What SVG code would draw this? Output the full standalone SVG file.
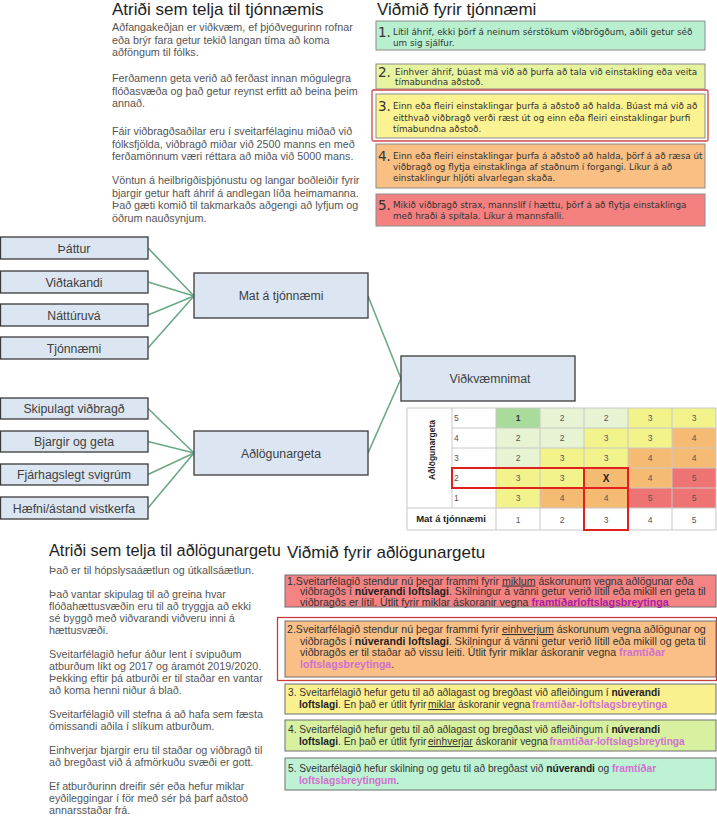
<svg xmlns="http://www.w3.org/2000/svg" width="717" height="825" viewBox="0 0 717 825">
<style>
.sans{font-family:"Liberation Sans",Arial,sans-serif}
.h{font-size:17px;fill:#1e1e1e}
.body{font-size:10.75px;fill:#555}
.node rect{fill:#dce6f2;stroke:#3a3a3a;stroke-width:1.3}
.node text{font-family:"Liberation Sans",Arial,sans-serif;font-size:12.3px;fill:#404040;text-anchor:middle}
.conn line{stroke:#6aa886;stroke-width:1.6}
.crit rect{stroke:#8c8c8c;stroke-width:1}
.crit text{font-family:"DejaVu Sans",Verdana,sans-serif;font-size:8.8px;fill:#333}
.crit .n{font-size:13.5px}
.adl rect{stroke:#6e6e6e;stroke-width:1}
.adl text{font-family:"Liberation Sans",Arial,sans-serif;font-size:10.2px;fill:#333}
.adl .big{font-size:10.6px}
.b{font-weight:bold;fill:#222}
.p{font-weight:bold;fill:#d070d0}
.pd{font-weight:bold;fill:#a81ea8}
.u{text-decoration:underline}
.grid line{stroke:#c8c8c8;stroke-width:1}
.mx text{font-family:"Liberation Sans",Arial,sans-serif;font-size:8.5px;fill:#555;text-anchor:middle}
.mx .rn{text-anchor:start}
.hl{fill:none;stroke:#e02020;stroke-width:2}
</style>

<!-- Top-left text -->
<g id="text-tjonnaemi" class="sans">
<text class="h" x="112" y="15">Atriði sem telja til tjónnæmis</text>
<g class="body">
<text x="112" y="31">Aðfangakeðjan er viðkvæm, ef þjóðvegurinn rofnar</text>
<text x="112" y="43.5">eða brýr fara getur tekið langan tíma að koma</text>
<text x="112" y="56">aðföngum til fólks.</text>
<text x="112" y="82">Ferðamenn geta verið að ferðast innan mögulegra</text>
<text x="112" y="94.5">flóðasvæða og það getur reynst erfitt að beina þeim</text>
<text x="112" y="107">annað.</text>
<text x="112" y="135">Fáir viðbragðsaðilar eru í sveitarfélaginu miðað við</text>
<text x="112" y="147.5">fólksfjölda, viðbragð miðar við 2500 manns en með</text>
<text x="112" y="160">ferðamönnum væri réttara að miða við 5000 mans.</text>
<text x="112" y="184">Vöntun á heilbrigðisþjónustu og langar boðleiðir fyrir</text>
<text x="112" y="196.5">bjargir getur haft áhrif á andlegan líða heimamanna.</text>
<text x="112" y="209">Það gæti komið til takmarkaðs aðgengi að lyfjum og</text>
<text x="112" y="221.5">öðrum nauðsynjum.</text>
</g>
</g>

<!-- Top-right criteria -->
<g id="vidmid-tjonnaemi" class="crit">
<text x="377" y="15" style="font-family:'Liberation Sans',Arial,sans-serif;font-size:17px;fill:#1e1e1e">Viðmið fyrir tjónnæmi</text>
<rect x="376" y="21" width="329" height="29" fill="#b7efcf"/>
<text class="n" x="378" y="37">1.</text>
<text x="393" y="35">Lítil áhrif, ekki þörf á neinum sérstökum viðbrögðum, aðili getur séð</text>
<text x="393" y="46">um sig sjálfur.</text>
<rect x="376" y="64" width="329" height="25" fill="#e6f4a0"/>
<text class="n" x="378" y="77">2.</text>
<text x="395" y="75">Einhver áhrif, búast má við að þurfa að tala við einstakling eða veita</text>
<text x="395" y="85">tímabundna aðstoð.</text>
<rect x="372" y="90" width="336" height="51" rx="1.5" style="fill:none;stroke:#d04848;stroke-width:1.3"/>
<rect x="376" y="94" width="329" height="44" fill="#fbf291"/>
<text class="n" x="378" y="111">3.</text>
<text x="393" y="109">Einn eða fleiri einstaklingar þurfa á aðstoð að halda. Búast má við að</text>
<text x="393" y="120.5">eitthvað viðbragð verði ræst út og einn eða fleiri einstaklingar þurfi</text>
<text x="393" y="132">tímabundna aðstoð.</text>
<rect x="376" y="144" width="329" height="44" fill="#f9bf83"/>
<text class="n" x="378" y="161">4.</text>
<text x="393" y="159">Einn eða fleiri einstaklingar þurfa á aðstoð að halda, þörf á að ræsa út</text>
<text x="393" y="170">viðbragð og flytja einstaklinga af staðnum í forgangi. Líkur á að</text>
<text x="393" y="181">einstaklingur hljóti alvarlegan skaða.</text>
<rect x="376" y="194" width="329" height="32" fill="#f58080"/>
<text class="n" x="378" y="210">5.</text>
<text x="393" y="208">Mikið viðbragð strax, mannslíf í hættu, þörf á að flytja einstaklinga</text>
<text x="393" y="219">með hraði á spítala. Líkur á mannsfalli.</text>
</g>

<!-- Connectors -->
<g id="connectors" class="conn">
<line x1="148" y1="248" x2="194" y2="296"/>
<line x1="148" y1="282" x2="194" y2="296"/>
<line x1="148" y1="315" x2="194" y2="296"/>
<line x1="148" y1="348" x2="194" y2="296"/>
<line x1="148" y1="408.5" x2="194" y2="453"/>
<line x1="148" y1="441.5" x2="194" y2="453"/>
<line x1="148" y1="474.5" x2="194" y2="453"/>
<line x1="148" y1="508" x2="194" y2="453"/>
<line x1="368" y1="296" x2="401" y2="378.5"/>
<line x1="368" y1="453" x2="401" y2="378.5"/>
</g>

<!-- Nodes -->
<g id="n-thattur" class="node"><rect x="0.5" y="237" width="147.5" height="22"/><text x="74" y="252.5">Þáttur</text></g>
<g id="n-vidtakandi" class="node"><rect x="0.5" y="271" width="147.5" height="22"/><text x="74" y="286.5">Viðtakandi</text></g>
<g id="n-natturuva" class="node"><rect x="0.5" y="304" width="147.5" height="22"/><text x="74" y="319.5">Náttúruvá</text></g>
<g id="n-tjonnaemi" class="node"><rect x="0.5" y="337" width="147.5" height="22"/><text x="74" y="352.5">Tjónnæmi</text></g>
<g id="n-mat" class="node"><rect x="194" y="273" width="174" height="45"/><text x="281" y="300">Mat á tjónnæmi</text></g>
<g id="n-skipulagt" class="node"><rect x="0.5" y="398" width="147.5" height="21"/><text x="74" y="413">Skipulagt viðbragð</text></g>
<g id="n-bjargir" class="node"><rect x="0.5" y="431" width="147.5" height="21"/><text x="74" y="446">Bjargir og geta</text></g>
<g id="n-fjarhags" class="node"><rect x="0.5" y="464" width="147.5" height="21"/><text x="74" y="479">Fjárhagslegt svigrúm</text></g>
<g id="n-haefni" class="node"><rect x="0.5" y="497" width="147.5" height="22"/><text x="74" y="512.5">Hæfni/ástand vistkerfa</text></g>
<g id="n-adlogun" class="node"><rect x="194" y="431" width="174" height="44"/><text x="281" y="457.5">Aðlögunargeta</text></g>
<g id="n-vidkvaemni" class="node"><rect x="401" y="356" width="174" height="45"/><text x="490" y="383">Viðkvæmnimat</text></g>

<!-- Matrix -->
<g id="matrix" class="mx">
<rect x="407" y="408" width="309" height="122" fill="#fff"/>
<g id="cells">
<rect x="496" y="408" width="44" height="20" fill="#a9dc9a"/>
<rect x="540" y="408" width="44" height="20" fill="#e7f3d2"/>
<rect x="584" y="408" width="44" height="20" fill="#e7f3d2"/>
<rect x="628" y="408" width="44" height="20" fill="#f3f38c"/>
<rect x="672" y="408" width="44" height="20" fill="#f3f38c"/>
<rect x="496" y="428" width="44" height="20" fill="#e7f3d2"/>
<rect x="540" y="428" width="44" height="20" fill="#e7f3d2"/>
<rect x="584" y="428" width="44" height="20" fill="#f3f38c"/>
<rect x="628" y="428" width="44" height="20" fill="#f3f38c"/>
<rect x="672" y="428" width="44" height="20" fill="#f6bb72"/>
<rect x="496" y="448" width="44" height="20" fill="#e7f3d2"/>
<rect x="540" y="448" width="44" height="20" fill="#f3f38c"/>
<rect x="584" y="448" width="44" height="20" fill="#f3f38c"/>
<rect x="628" y="448" width="44" height="20" fill="#f6bb72"/>
<rect x="672" y="448" width="44" height="20" fill="#f6bb72"/>
<rect x="496" y="468" width="44" height="20" fill="#f3f38c"/>
<rect x="540" y="468" width="44" height="20" fill="#f3f38c"/>
<rect x="584" y="468" width="44" height="20" fill="#f6bb72"/>
<rect x="628" y="468" width="44" height="20" fill="#f6bb72"/>
<rect x="672" y="468" width="44" height="20" fill="#ee7373"/>
<rect x="496" y="488" width="44" height="20" fill="#f3f38c"/>
<rect x="540" y="488" width="44" height="20" fill="#f6bb72"/>
<rect x="584" y="488" width="44" height="20" fill="#f6bb72"/>
<rect x="628" y="488" width="44" height="20" fill="#ee7373"/>
<rect x="672" y="488" width="44" height="20" fill="#ee7373"/>
</g>
<g class="grid">
<line x1="407" y1="408" x2="716" y2="408"/>
<line x1="452" y1="428" x2="716" y2="428"/>
<line x1="452" y1="448" x2="716" y2="448"/>
<line x1="452" y1="468" x2="716" y2="468"/>
<line x1="452" y1="488" x2="716" y2="488"/>
<line x1="407" y1="508" x2="716" y2="508"/>
<line x1="407" y1="530" x2="716" y2="530"/>
<line x1="407" y1="408" x2="407" y2="530"/>
<line x1="452" y1="408" x2="452" y2="508"/>
<line x1="496" y1="408" x2="496" y2="530"/>
<line x1="540" y1="408" x2="540" y2="530"/>
<line x1="584" y1="408" x2="584" y2="530"/>
<line x1="628" y1="408" x2="628" y2="530"/>
<line x1="672" y1="408" x2="672" y2="530"/>
<line x1="716" y1="408" x2="716" y2="530"/>
</g>
<text x="432" y="450" transform="rotate(-90 432 450)" style="font-weight:bold;font-size:8.5px;fill:#222" dy="3">Aðlögunargeta</text>
<text class="rn" x="454" y="421">5</text>
<text class="rn" x="454" y="441">4</text>
<text class="rn" x="454" y="461">3</text>
<text class="rn" x="454" y="481">2</text>
<text class="rn" x="454" y="501">1</text>
<text x="518" y="421" style="font-weight:bold;fill:#333">1</text><text x="562" y="421">2</text><text x="606" y="421">2</text><text x="650" y="421">3</text><text x="694" y="421">3</text>
<text x="518" y="441">2</text><text x="562" y="441">2</text><text x="606" y="441">3</text><text x="650" y="441">3</text><text x="694" y="441">4</text>
<text x="518" y="461">2</text><text x="562" y="461">3</text><text x="606" y="461">3</text><text x="650" y="461">4</text><text x="694" y="461">4</text>
<text x="518" y="481">3</text><text x="562" y="481">3</text><text x="606" y="482" style="font-weight:bold;font-size:10px;fill:#222">X</text><text x="650" y="481">4</text><text x="694" y="481">5</text>
<text x="518" y="501">3</text><text x="562" y="501">4</text><text x="606" y="501">4</text><text x="650" y="501">5</text><text x="694" y="501">5</text>
<text x="451" y="522" style="font-weight:bold;font-size:9.5px;fill:#222">Mat á tjónnæmi</text>
<text x="518" y="523">1</text><text x="562" y="523">2</text><text x="606" y="523">3</text><text x="650" y="523">4</text><text x="694" y="523">5</text>
<rect class="hl" x="452" y="468" width="176" height="20"/>
<rect class="hl" x="584" y="468" width="44" height="62"/>
</g>

<!-- Bottom-left text -->
<g id="text-adlogun" class="sans">
<text x="49" y="556" style="font-size:16.3px;fill:#1e1e1e">Atriði sem telja til aðlögunargetu</text>
<g class="body">
<text x="49" y="574">Það er til hópslysaáætlun og útkallsáætlun.</text>
<text x="49" y="598">Það vantar skipulag til að greina hvar</text>
<text x="49" y="610">flóðahættusvæðin eru til að tryggja að ekki</text>
<text x="49" y="622">sé byggð með viðvarandi viðveru inni á</text>
<text x="49" y="634">hættusvæði.</text>
<text x="49" y="658">Sveitarfélagið hefur áður lent í svipuðum</text>
<text x="49" y="670">atburðum líkt og 2017 og áramót 2019/2020.</text>
<text x="49" y="682">Þekking eftir þá atburði er til staðar en vantar</text>
<text x="49" y="694">að koma henni niður á blað.</text>
<text x="49" y="718">Sveitarfélagið vill stefna á að hafa sem fæsta</text>
<text x="49" y="730">ómissandi aðila í slíkum atburðum.</text>
<text x="49" y="754">Einhverjar bjargir eru til staðar og viðbragð til</text>
<text x="49" y="766">að bregðast við á afmörkuðu svæði er gott.</text>
<text x="49" y="790">Ef atburðurinn dreifir sér eða hefur miklar</text>
<text x="49" y="802">eyðileggingar í för með sér þá þarf aðstoð</text>
<text x="49" y="814">annarsstaðar frá.</text>
</g>
</g>

<!-- Bottom-right criteria -->
<g id="vidmid-adlogun" class="adl">
<text x="287" y="558" style="font-size:17px;fill:#1e1e1e">Viðmið fyrir aðlögunargetu</text>
<rect x="285" y="575" width="431" height="32" fill="#f48383"/>
<text class="big" x="287" y="584.5">1.Sveitarfélagið stendur nú þegar frammi fyrir <tspan class="u">miklum</tspan> áskorunum vegna aðlögunar eða</text>
<text class="big" x="300" y="595">viðbragðs í <tspan class="b">núverandi loftslagi</tspan>. Skilningur á vánni getur verið lítill eða mikill en geta til</text>
<text class="big" x="300" y="605.5">viðbragðs er lítil. Útlit fyrir miklar áskoranir vegna  <tspan class="pd">framtíðarloftslagsbreytinga</tspan></text>
<rect x="277.5" y="617.5" width="439" height="63" style="fill:none;stroke:#c83c3c;stroke-width:1.3"/>
<rect x="285" y="621" width="431" height="56" fill="#f9bf86"/>
<text class="big" x="287" y="633">2.Sveitarfélagið stendur nú þegar frammi fyrir <tspan class="u">einhverjum</tspan> áskorunum vegna aðlögunar og</text>
<text class="big" x="300" y="644.5">viðbragðs í <tspan class="b">núverandi loftslagi</tspan>. Skilningur á vánni getur verið lítill eða mikill og geta til</text>
<text class="big" x="300" y="656">viðbragðs er til staðar að vissu leiti. Útlit fyrir miklar áskoranir vegna  <tspan class="p">framtíðar</tspan></text>
<text class="big" x="300" y="667.5"><tspan class="p">loftslagsbreytinga</tspan>.</text>
<rect x="285" y="684" width="431" height="30" fill="#fbf08e"/>
<text x="288" y="695.5">3.  Sveitarfélagið hefur getu til að aðlagast og bregðast við afleiðingum í <tspan class="b">núverandi</tspan></text>
<text x="299" y="708"><tspan class="b">loftslagi</tspan>. En það er útlit fyrir<tspan class="u" dx="1.5">miklar</tspan> áskoranir vegna<tspan class="p" dx="1.5">framtíðar-loftslagsbreytinga</tspan></text>
<rect x="285" y="720" width="431" height="31" fill="#d7f1a1"/>
<text x="288" y="733">4.  Sveitarfélagið hefur getu til að aðlagast og bregðast við afleiðingum í <tspan class="b">núverandi</tspan></text>
<text x="299" y="745"><tspan class="b">loftslagi</tspan>. En það er útlit fyrir<tspan class="u" dx="1.5">einhverjar</tspan> áskoranir vegna<tspan class="p" dx="1.5">framtíðar-loftslagsbreytinga</tspan></text>
<rect x="285" y="758" width="431" height="32" fill="#bef2d5"/>
<text x="288" y="772">5.  Sveitarfélagið hefur skilning og getu til að bregðast við <tspan class="b">núverandi</tspan> og <tspan class="p">framtíðar</tspan></text>
<text x="299" y="784"><tspan class="p">loftslagsbreytingum</tspan>.</text>
</g>
</svg>
